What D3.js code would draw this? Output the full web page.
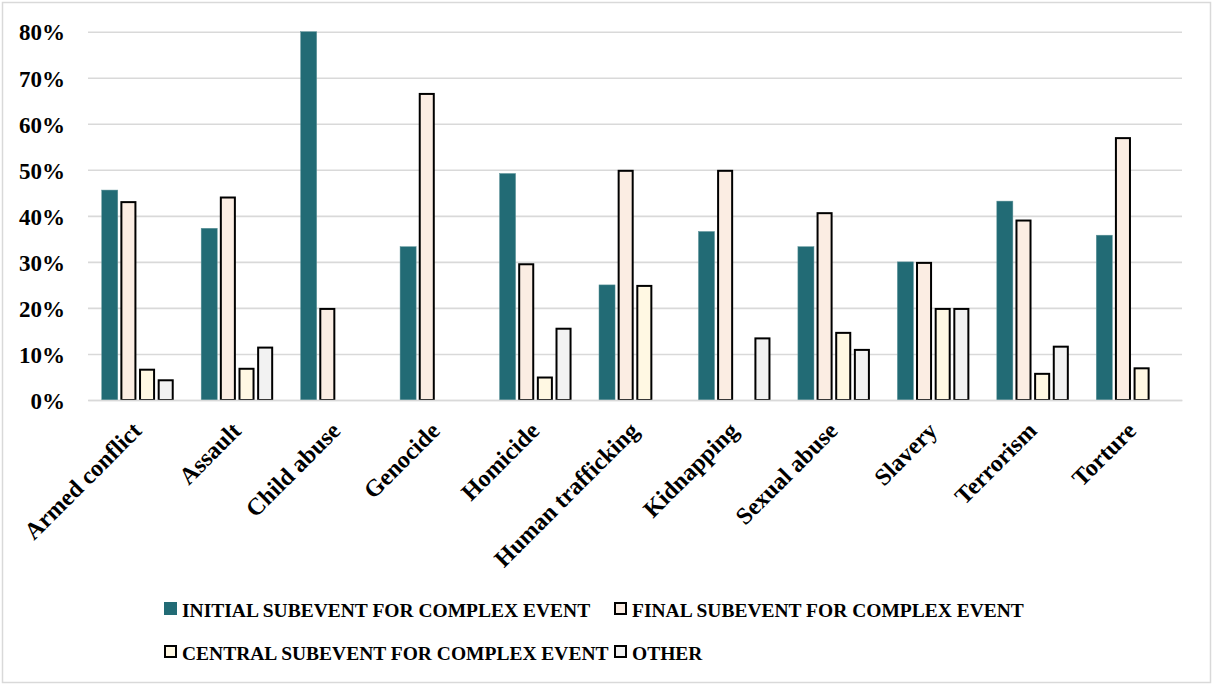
<!DOCTYPE html>
<html>
<head>
<meta charset="utf-8">
<script src="https://cdn.jsdelivr.net/npm/d3@7"></script>
<style>
  html, body { margin: 0; padding: 0; background: #fff; }
  svg { display: block; }
  text { font-family: "Liberation Serif", "Times New Roman", serif; font-weight: bold; fill: #000; }
</style>
</head>
<body>
<svg id="chart" width="1212" height="686"></svg>
<script>
// Share of subevent roles per event type (percent)
const categories = ["Armed conflict", "Assault", "Child abuse", "Genocide", "Homicide",
  "Human trafficking", "Kidnapping", "Sexual abuse", "Slavery", "Terrorism", "Torture"];
const initialValues = [45.6, 37.3, 80.0, 33.3, 49.2, 25.0, 36.6, 33.3, 30.0, 43.2, 35.8];
const finalValues   = [43.2, 44.2, 20.0, 66.7, 29.7, 50.0, 50.0, 40.8, 30.0, 39.2, 57.1];
const centralValues = [6.8, 7.0, 0, 0, 5.1, 25.0, 0, 14.8, 20.0, 5.9, 7.1];
const otherValues   = [4.5, 11.6, 0, 0, 15.7, 0, 13.6, 11.1, 20.0, 11.8, 0];
const seriesNames = ["INITIAL SUBEVENT FOR COMPLEX EVENT", "FINAL SUBEVENT FOR COMPLEX EVENT",
  "CENTRAL SUBEVENT FOR COMPLEX EVENT", "OTHER"];
const yTicks = [0, 10, 20, 30, 40, 50, 60, 70, 80];

const seriesValues = [initialValues, finalValues, centralValues, otherValues];
const fills = ["#226b75", "#fbede3", "#fff8e3", "#f2f2f2"];
const strokes = [null, "#000", "#000", "#000"];

const svg = d3.select("#chart");

// outer frame
svg.append("rect").attr("x", 2.5).attr("y", 2.5).attr("width", 1208).attr("height", 680)
  .attr("fill", "#fff").attr("stroke", "#d9d9d9").attr("stroke-width", 1.5);

const x0 = d3.scaleBand().domain(categories).range([88, 1182]);
const x1 = d3.scaleBand().domain(d3.range(4)).range([0, 72]).paddingInner(0.14);
const y = d3.scaleLinear().domain([0, 80]).range([400, 31.7]);

// gridlines + y labels
const yAxis = d3.axisLeft(y).tickValues(yTicks).tickSize(-(1182 - 88)).tickFormat(d => d + "%");
const gy = svg.append("g").attr("transform", "translate(88,0)").call(yAxis);
gy.select(".domain").remove();
gy.selectAll(".tick line").attr("stroke", "#d9d9d9").attr("stroke-width", 1.6);
gy.selectAll(".tick text").attr("x", -23).attr("dy", "0.36em")
  .style("font-size", "23px").style("font-family", "'Liberation Serif', serif").style("font-weight", "bold");

// bars
const groups = svg.append("g").selectAll("g").data(categories).join("g")
  .attr("transform", c => `translate(${x0(c) + x0.bandwidth() / 2 - 36},0)`);

groups.each(function (c, ci) {
  const rows = seriesValues.map((vals, si) => ({ si, v: vals[ci] })).filter(d => d.v > 0);
  d3.select(this).selectAll("rect").data(rows).join("rect")
    .attr("x", d => x1(d.si) + (strokes[d.si] ? 1 : 0))
    .attr("width", d => x1.bandwidth() - (strokes[d.si] ? 2 : 0))
    .attr("y", d => y(d.v) + (strokes[d.si] ? 1 : 0))
    .attr("height", d => y(0) - y(d.v) - (strokes[d.si] ? 1 : 0))
    .attr("fill", d => fills[d.si])
    .attr("stroke", d => strokes[d.si] || "#5e9399")
    .attr("stroke-width", d => strokes[d.si] ? 2 : 0.5);
});

// category labels
const xAxis = d3.axisBottom(x0).tickSize(0).tickPadding(0);
const gx = svg.append("g").attr("transform", "translate(0,400)").call(xAxis);
gx.select(".domain").attr("stroke", "#d9d9d9").attr("stroke-width", 1.6);
gx.selectAll(".tick text")
  .attr("text-anchor", "end")
  .attr("transform", "translate(-7,20) rotate(-45)")
  .attr("y", 0).attr("dy", "0.72em")
  .style("font-size", "24px").style("font-family", "'Liberation Serif', serif").style("font-weight", "bold");

// legend
const legendPos = [[164, 602], [614, 602], [164, 645], [614, 645]];
const legend = svg.append("g").selectAll("g").data(seriesNames).join("g")
  .attr("transform", (d, i) => `translate(${legendPos[i][0]},${legendPos[i][1]})`);
legend.append("rect")
  .attr("x", (d, i) => strokes[i] ? 1 : 0).attr("y", (d, i) => strokes[i] ? 1 : 0)
  .attr("width", (d, i) => strokes[i] ? 11 : 13).attr("height", (d, i) => strokes[i] ? 11 : 13)
  .attr("fill", (d, i) => fills[i])
  .attr("stroke", (d, i) => strokes[i] || "none").attr("stroke-width", 2);
legend.append("text").attr("x", 18).attr("y", 14.5)
  .style("font-size", "19.5px").text(d => d);
</script>
</body>
</html>
